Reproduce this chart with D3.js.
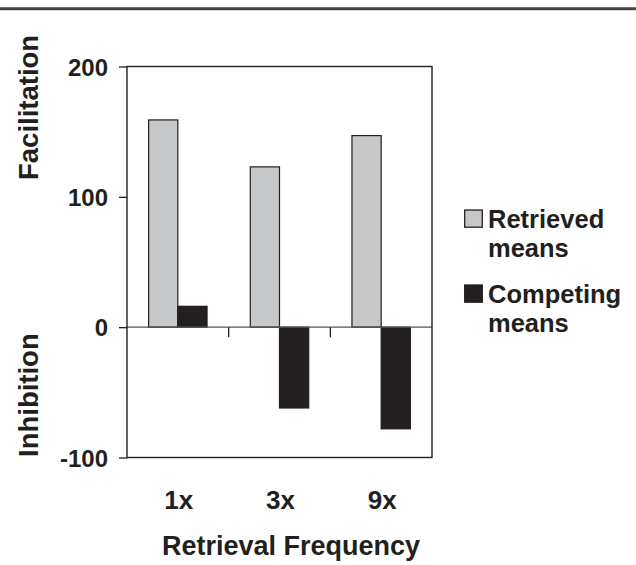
<!DOCTYPE html>
<html>
<head>
<meta charset="utf-8">
<script src="https://cdn.jsdelivr.net/npm/d3@7"></script>
<style>
  body { margin: 0; background: #fff; }
  text { font-family: "Liberation Sans", Arial, sans-serif; font-weight: bold; fill: #231f20; }
</style>
</head>
<body>
<div id="chart"></div>
<script>
// data
const categories = ['1x', '3x', '9x'];
const seriesNames = ['Retrieved means', 'Competing means'];
const retrieved = [159, 123, 147];
const competing = [16, -62, -78];
const yTicks = [-100, 0, 100, 200];

const colors = {'Retrieved means': '#c6c7c8', 'Competing means': '#231f20'};
const ink = '#231f20';

const W = 636, H = 565;
const margin = {top: 66.5, right: 204, bottom: 107.5, left: 127};
const plotW = W - margin.left - margin.right,
    plotH = H - margin.top - margin.bottom;

const svg = d3.select('#chart').append('svg')
    .attr('width', W)
    .attr('height', H);

// rule across the top of the page
svg.append('line')
    .attr('x1', 0).attr('x2', W)
    .attr('y1', 8.7).attr('y2', 8.7)
    .attr('stroke', '#444')
    .attr('stroke-width', 3);

const g = svg.append('g')
    .attr('transform', 'translate(' + margin.left + ',' + margin.top + ')');

const x = d3.scaleBand()
    .domain(categories)
    .range([0, plotW]);

const xs = d3.scaleBand()
    .domain(seriesNames)
    .range([0, x.bandwidth()])
    .paddingOuter(0.74);

const y = d3.scaleLinear()
    .domain([-100, 200])
    .range([plotH, 0]);

const rows = categories.map((c, i) => ({
    category: c,
    values: [
        {series: seriesNames[0], value: retrieved[i]},
        {series: seriesNames[1], value: competing[i]}
    ]
}));

// bars
const groups = g.selectAll('.group')
    .data(rows)
    .enter().append('g')
    .attr('class', 'group')
    .attr('transform', d => 'translate(' + x(d.category) + ',0)');

groups.selectAll('rect')
    .data(d => d.values)
    .enter().append('rect')
    .attr('x', d => xs(d.series))
    .attr('width', xs.bandwidth())
    .attr('y', d => y(Math.max(0, d.value)))
    .attr('height', d => Math.abs(y(d.value) - y(0)))
    .attr('fill', d => colors[d.series])
    .attr('stroke', ink)
    .attr('stroke-width', 1.2);

// zero line with category separators hanging below it
g.append('line')
    .attr('x1', 0).attr('x2', plotW)
    .attr('y1', y(0)).attr('y2', y(0))
    .attr('stroke', '#555')
    .attr('stroke-width', 1.3);

g.selectAll('.sep')
    .data(categories.slice(1))
    .enter().append('line')
    .attr('class', 'sep')
    .attr('x1', d => x(d)).attr('x2', d => x(d))
    .attr('y1', y(0)).attr('y2', y(0) + 10)
    .attr('stroke', ink)
    .attr('stroke-width', 1.3);

// plot frame
g.append('rect')
    .attr('x', 0).attr('y', 0)
    .attr('width', plotW).attr('height', plotH)
    .attr('fill', 'none')
    .attr('stroke', ink)
    .attr('stroke-width', 1.4);

// y axis, plain hyphen for the negative tick like the original
const yAxis = g.append('g')
    .call(d3.axisLeft(y).tickValues(yTicks).tickSize(8).tickPadding(11).tickFormat(d => String(d)));
yAxis.select('.domain').remove();
yAxis.selectAll('line').attr('stroke', ink).attr('stroke-width', 1.3);
yAxis.selectAll('text')
    .attr('font-size', 24)
    .attr('fill', ink)
    .attr('font-family', '"Liberation Sans", Arial, sans-serif')
    .attr('font-weight', 'bold')
    .attr('dy', '0.36em');

// category labels
g.selectAll('.cat')
    .data(categories)
    .enter().append('text')
    .attr('class', 'cat')
    .attr('x', d => x(d) + x.bandwidth() / 2 + 1)
    .attr('y', 509 - margin.top)
    .attr('text-anchor', 'middle')
    .attr('font-size', 26)
    .text(d => d);

// x title
svg.append('text')
    .attr('x', 291)
    .attr('y', 555)
    .attr('text-anchor', 'middle')
    .attr('font-size', 27)
    .text('Retrieval Frequency');

// y titles
svg.append('text')
    .attr('transform', 'translate(38,180) rotate(-90)')
    .attr('text-anchor', 'start')
    .attr('font-size', 27.5)
    .text('Facilitation');

svg.append('text')
    .attr('transform', 'translate(38,457) rotate(-90)')
    .attr('text-anchor', 'start')
    .attr('font-size', 27.5)
    .text('Inhibition');

// legend
const legendLines = [['Retrieved', 'means'], ['Competing', 'means']];
const legend = svg.append('g')
    .attr('transform', 'translate(464,0)');

const items = legend.selectAll('.item')
    .data(seriesNames)
    .enter().append('g')
    .attr('class', 'item')
    .attr('transform', (d, i) => 'translate(0,' + (227.5 + i * 75) + ')');

items.append('rect')
    .attr('x', 0.7).attr('y', -17.5)
    .attr('width', 17.6).attr('height', 17.2)
    .attr('fill', d => colors[d])
    .attr('stroke', ink)
    .attr('stroke-width', 1.3);

items.selectAll('text')
    .data((d, i) => legendLines[i])
    .enter().append('text')
    .attr('x', 24)
    .attr('y', (d, j) => j * 29)
    .attr('font-size', 25.5)
    .text(d => d);
</script>
</body>
</html>
